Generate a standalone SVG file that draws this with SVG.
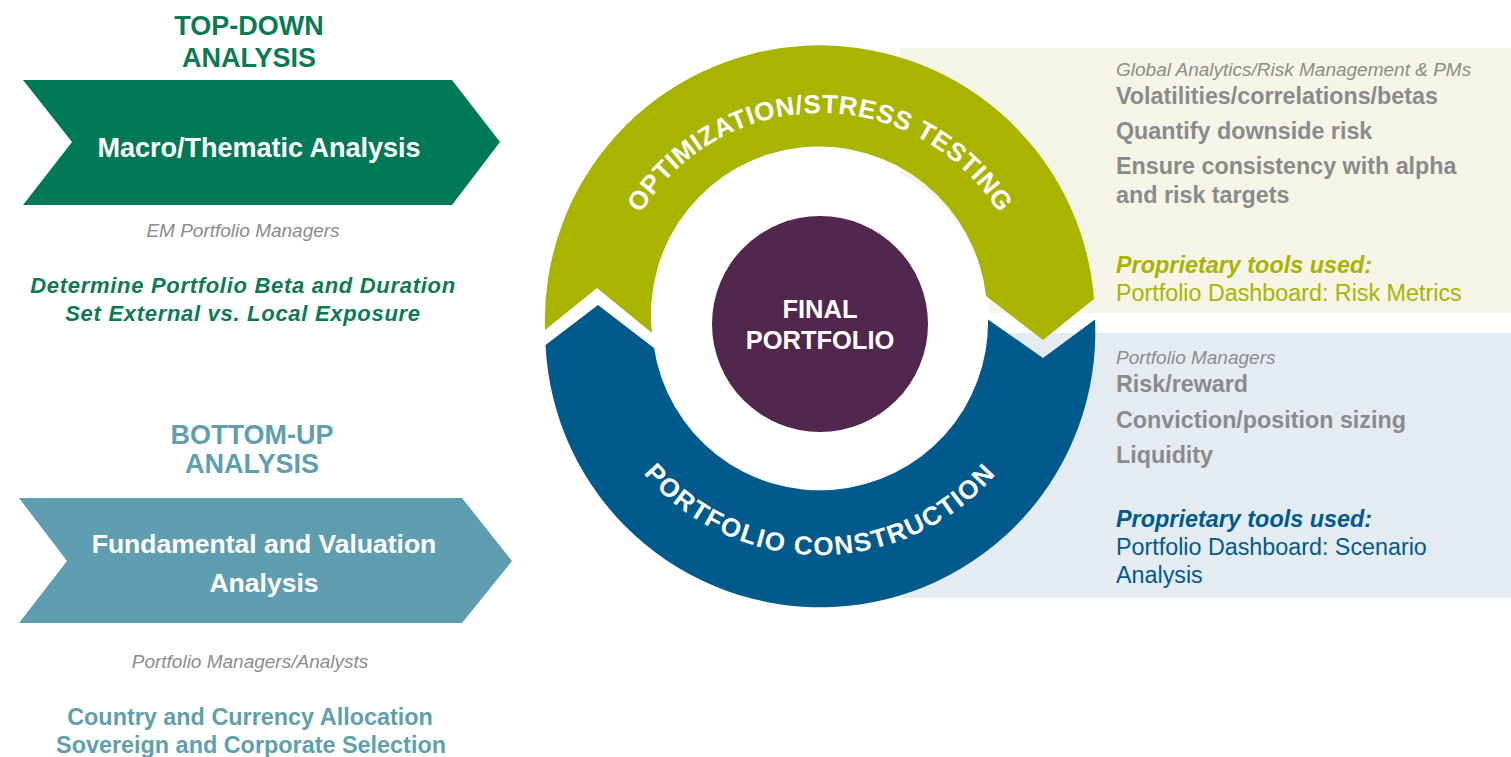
<svg xmlns="http://www.w3.org/2000/svg" width="1511" height="757" viewBox="0 0 1511 757">
<defs>
<style>
text{font-family:"Liberation Sans",Arial,sans-serif}
.hd{font-weight:bold;font-size:27px;text-anchor:middle}
.chev{font-weight:bold;font-size:27px;fill:#fff;text-anchor:middle}
.who{font-style:italic;font-size:19px;fill:#8c8c8c}
.bi{font-weight:bold;font-style:italic;font-size:22px}
.rbi{font-weight:bold;font-style:italic;font-size:23.4px}
.gb{font-weight:bold;font-size:23.3px;fill:#8a8a8a}
.lb{font-weight:bold;font-size:23.4px;fill:#5f9fb0;text-anchor:middle}
.reg{font-size:23.3px}
.ring{font-weight:bold;font-size:26px;fill:#fff}
.ctr{font-weight:bold;font-size:25.5px;fill:#fff;text-anchor:middle}
</style>
<path id="topArc" d="M 610,323 A 210 210 0 0 1 1030,323"/>
<path id="botArc" d="M 588,323 A 232 232 0 0 0 1052,323"/>
</defs>
<rect width="1511" height="757" fill="#fff"/>

<g id="panel-optimization">
<rect x="900" y="48" width="611" height="265" fill="#f4f5e6"/>
<text class="who" x="1116" y="76">Global Analytics/Risk Management &amp; PMs</text>
<text class="gb" x="1116" y="104">Volatilities/correlations/betas</text>
<text class="gb" x="1116" y="139">Quantify downside risk</text>
<text class="gb" x="1116" y="174">Ensure consistency with alpha</text>
<text class="gb" x="1116" y="203">and risk targets</text>
<text class="rbi" x="1116" y="273" fill="#a8b400">Proprietary tools used:</text>
<text class="reg" x="1116" y="301" fill="#a8b400">Portfolio Dashboard: Risk Metrics</text>
</g>

<g id="panel-construction">
<rect x="900" y="333" width="611" height="265" fill="#e4ecf2"/>
<text class="who" x="1116" y="364">Portfolio Managers</text>
<text class="gb" x="1116" y="392">Risk/reward</text>
<text class="gb" x="1116" y="428">Conviction/position sizing</text>
<text class="gb" x="1116" y="463">Liquidity</text>
<text class="rbi" x="1116" y="527" fill="#005a8b">Proprietary tools used:</text>
<text class="reg" x="1116" y="555" fill="#005a8b">Portfolio Dashboard: Scenario</text>
<text class="reg" x="1116" y="583" fill="#005a8b">Analysis</text>
</g>

<circle cx="820" cy="323" r="170" fill="#fff"/>

<g id="optimization-stress-testing">
<path d="M 545,330 A 275 275 0 0 1 1094,299 L 1043,340 L 986,296 A 168 168 0 0 0 652,333 L 597,288 Z" fill="#a8b400"/>
<text class="ring" letter-spacing="0.5"><textPath href="#topArc" startOffset="50%" text-anchor="middle">OPTIMIZATION/STRESS TESTING</textPath></text>
</g>

<g id="portfolio-construction">
<path d="M 1095,319.5 A 275 275 0 0 1 545.5,345 L 598,305 L 654,348 A 168 168 0 0 0 988,319.5 L 1043,358 Z" fill="#005a8b"/>
<text class="ring" letter-spacing="1.5"><textPath href="#botArc" startOffset="50%" text-anchor="middle">PORTFOLIO CONSTRUCTION</textPath></text>
</g>

<g id="final-portfolio">
<circle cx="820" cy="324" r="108" fill="#52274e"/>
<text class="ctr" x="820" y="318">FINAL</text>
<text class="ctr" x="820" y="349">PORTFOLIO</text>
</g>

<g id="top-down">
<text class="hd" x="249" y="35" fill="#0b7a55">TOP-DOWN</text>
<text class="hd" x="249" y="67" fill="#0b7a55">ANALYSIS</text>
<polygon points="23,80 452,80 500,142 452,205 23,205 72,142" fill="#007a56"/>
<text class="chev" x="259" y="157">Macro/Thematic Analysis</text>
<text class="who" x="243" y="237" text-anchor="middle">EM Portfolio Managers</text>
<text class="bi" x="243" y="293" text-anchor="middle" fill="#0b7a55" letter-spacing="0.7">Determine Portfolio Beta and Duration</text>
<text class="bi" x="243" y="321" text-anchor="middle" fill="#0b7a55" letter-spacing="0.7">Set External vs. Local Exposure</text>
</g>

<g id="bottom-up">
<text class="hd" x="252" y="444" fill="#5f9fb0">BOTTOM-UP</text>
<text class="hd" x="252" y="473" fill="#5f9fb0">ANALYSIS</text>
<polygon points="19,498 462,498 512,561 462,623 19,623 67,561" fill="#5f9eb0"/>
<text class="chev" x="264" y="553" style="font-size:26.5px">Fundamental and Valuation</text>
<text class="chev" x="264" y="592" style="font-size:26.5px">Analysis</text>
<text class="who" x="250" y="668" text-anchor="middle">Portfolio Managers/Analysts</text>
<text class="lb" x="250" y="725">Country and Currency Allocation</text>
<text class="lb" x="251" y="753">Sovereign and Corporate Selection</text>
</g>
</svg>
